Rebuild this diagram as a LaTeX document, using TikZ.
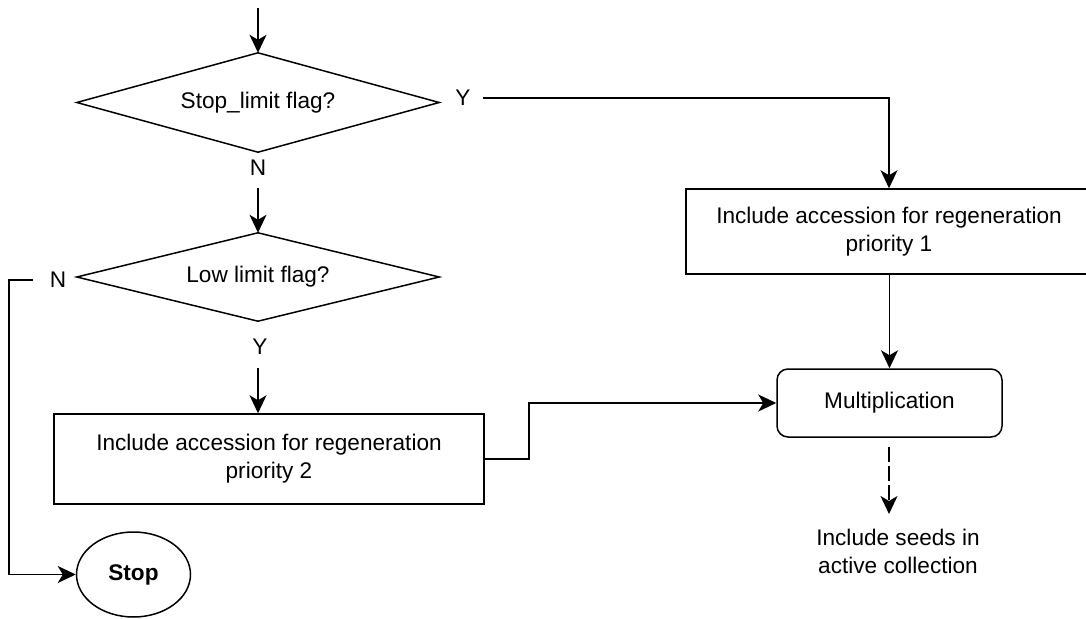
\documentclass[tikz,border=0pt]{standalone}
\usepackage{fontspec}
\setmainfont{Liberation Sans}
\usetikzlibrary{shapes.geometric,arrows.meta}
\begin{document}
\begin{tikzpicture}[x=1pt,y=-1pt,
  every node/.style={font=\fontsize{22.6}{28}\selectfont, inner sep=0pt},
  conn/.style={line width=1.5pt, -{Stealth[length=18pt,width=17pt,inset=5pt]}},
  decbox/.style={rectangle, minimum width=362pt, minimum height=99pt},
  decline/.style={line width=1.5pt, line join=miter},
  boxnode/.style={draw, line width=1.5pt, rectangle, align=center},
  lbl/.style={}]
\useasboundingbox (0,0) rectangle (1086,618);
% nodes
\coordinate (start) at (258,8);
\node[decbox] (d1) at (258,102.5) {Stop\_limit flag?};
\draw[decline] (d1.north) -- (d1.east) -- (d1.south) -- (d1.west) -- cycle;
\node[lbl] (y1) at (463,98) {Y};
\coordinate (y1s) at (483,98);
\node[lbl] (n1) at (258,168) {N};
\coordinate (n1s) at (258,188);
\node[decbox, minimum height=88pt] (d2) at (258,277) {Low limit flag?};
\draw[decline] (d2.north) -- (d2.east) -- (d2.south) -- (d2.west) -- cycle;
\node[lbl] (n2) at (58,280) {N};
\coordinate (n2s) at (33,280);
\node[lbl] (y2) at (260,347) {Y};
\coordinate (y2s) at (258,368);
\node[boxnode, minimum width=430pt, minimum height=90pt] (b2) at (269,459)
  {Include accession for regeneration\\priority 2};
\node[boxnode, minimum width=406pt, minimum height=85pt] (b1) at (889,231.5)
  {Include accession for regeneration\\priority 1};
\node[boxnode, rounded corners=11pt, minimum width=225pt, minimum height=68pt] (m) at (889.5,403)
  {Multiplication};
\coordinate (ms) at (889,447);
\node[align=center] (seeds) at (898,551) {Include seeds in\\active collection};
\node[draw, line width=1.5pt, ellipse, minimum width=114pt, minimum height=85pt, font=\fontsize{22.6}{28}\selectfont\bfseries] (stop) at (133.5,574.5) {Stop};
% connectors
\draw[conn] (start) -- (d1.north);
\draw[conn] (y1s) -| (b1.north);
\draw[conn] (n1s) -- (d2.north);
\draw[conn] (n2s) -- (9,280) |- (stop.west);
\draw[conn] (y2s) -- (b2.north -| y2s);
\draw[conn] (b2.east) -- (529,459) |- (m.west);
\draw[conn] (b1.south -| m.north) -- (m.north);
\draw[conn, dash pattern=on 15pt off 4pt] (ms) -- (889,514);
\end{tikzpicture}
\end{document}
